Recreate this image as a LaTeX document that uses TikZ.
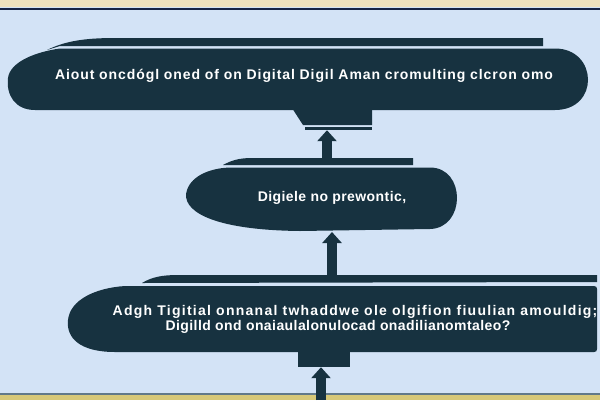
\documentclass[tikz,border=0pt]{standalone}
\usepackage{fontspec}
\setmainfont{Liberation Sans}
\usetikzlibrary{arrows.meta}
\definecolor{bg}{RGB}{211,227,246}
\definecolor{box}{RGB}{23,50,64}
\definecolor{tan}{RGB}{236,224,190}
\definecolor{edge}{RGB}{20,35,70}
\definecolor{ylw}{RGB}{215,200,120}
\tikzset{
  shapefill/.style={fill=box, draw=none},
  label/.style={text=white, font=\bfseries\fontsize{14}{15}\selectfont, inner sep=0pt, align=center},
  tab/.style={fill=box, draw=none, inner sep=0pt},
  flow/.style={draw=box, line width=10pt, -{Triangle[width=19pt,length=11pt]}}
}
\begin{document}
\begin{tikzpicture}[x=1pt,y=-1pt]
\useasboundingbox (0,0) rectangle (600,400);
% background and frame
\fill[bg] (0,0) rectangle (600,400);
\fill[tan] (0,0) rectangle (600,7);
\fill[edge] (0,7.5) rectangle (600,10);
\fill[ylw] (0,395) rectangle (600,400);
\fill[box!60!bg] (0,393) rectangle (600,395);
% top box
\fill[shapefill] (47,50) .. controls (65,41) and (85,38) .. (115,38) -- (543,38) -- (543,46) -- (60,46) -- cycle;
\fill[shapefill] (60,48.5) -- (555,48.5) .. controls (598,48.5) and (600,110) .. (555,110)
  -- (35,110) .. controls (15,110) and (6,95) .. (8,78) .. controls (10,62) and (35,52) .. (60,48.5) -- cycle;
\fill[shapefill] (292,108) -- (372,108) -- (372,125) -- (303,125) -- cycle;
\node[tab, minimum width=67pt, minimum height=3pt] (toptab) at (338.5,128.5) {};
\node[label] (top) at (304,76) {\addfontfeature{LetterSpace=6.5}Aiout oncdógl oned of on Digital Digil Aman cromulting clcron omo};
% middle box
\fill[shapefill] (223,165) .. controls (232,160) and (240,158) .. (252,158) -- (413,158) -- (413,165) -- cycle;
\fill[shapefill] (232,167.5) -- (430,167.5) .. controls (466,167.5) and (466,228) .. (430,229)
  -- (300,231) .. controls (210,230) and (180,210) .. (187,190) .. controls (192,175) and (212,167.5) .. (232,167.5) -- cycle;
\node[label] (mid) at (332,198) {\addfontfeature{LetterSpace=3}Digiele no prewontic,};
\coordinate (midtop) at (327,158);
\coordinate (midbot) at (332,232);
% bottom box
\fill[shapefill] (142,283) .. controls (152,277) and (162,275) .. (178,275) -- (597,275) -- (597,282) -- cycle;
\fill[shapefill] (125,286) -- (594,286) .. controls (596,286) and (597,287) .. (597,289) -- (597,349) .. controls (597,351) and (596,352) .. (594,352)
  -- (115,352) .. controls (80,352) and (66,338) .. (68,320) .. controls (70,300) and (95,288) .. (125,286) -- cycle;
\node[tab, minimum width=52pt, minimum height=16pt] (bottab) at (324,359) {};
\node[label] (bot) at (355,319) {\addfontfeature{LetterSpace=9}Adgh Tigitial onnanal twhaddwe ole olgifion fiuulian amouldig;\\
  \addfontfeature{LetterSpace=3}Digilld ond onaiaulalonulocad onadilianomtaleo?\hspace*{34pt}};
\coordinate (bottop) at (332,275);
\coordinate (page) at (321,400);
% connectors
\draw[flow] (midtop) -- (midtop |- toptab.south);
\draw[flow] (bottop) -- (midbot);
\draw[flow] (page) -- (page |- bottab.south);
\end{tikzpicture}
\end{document}
